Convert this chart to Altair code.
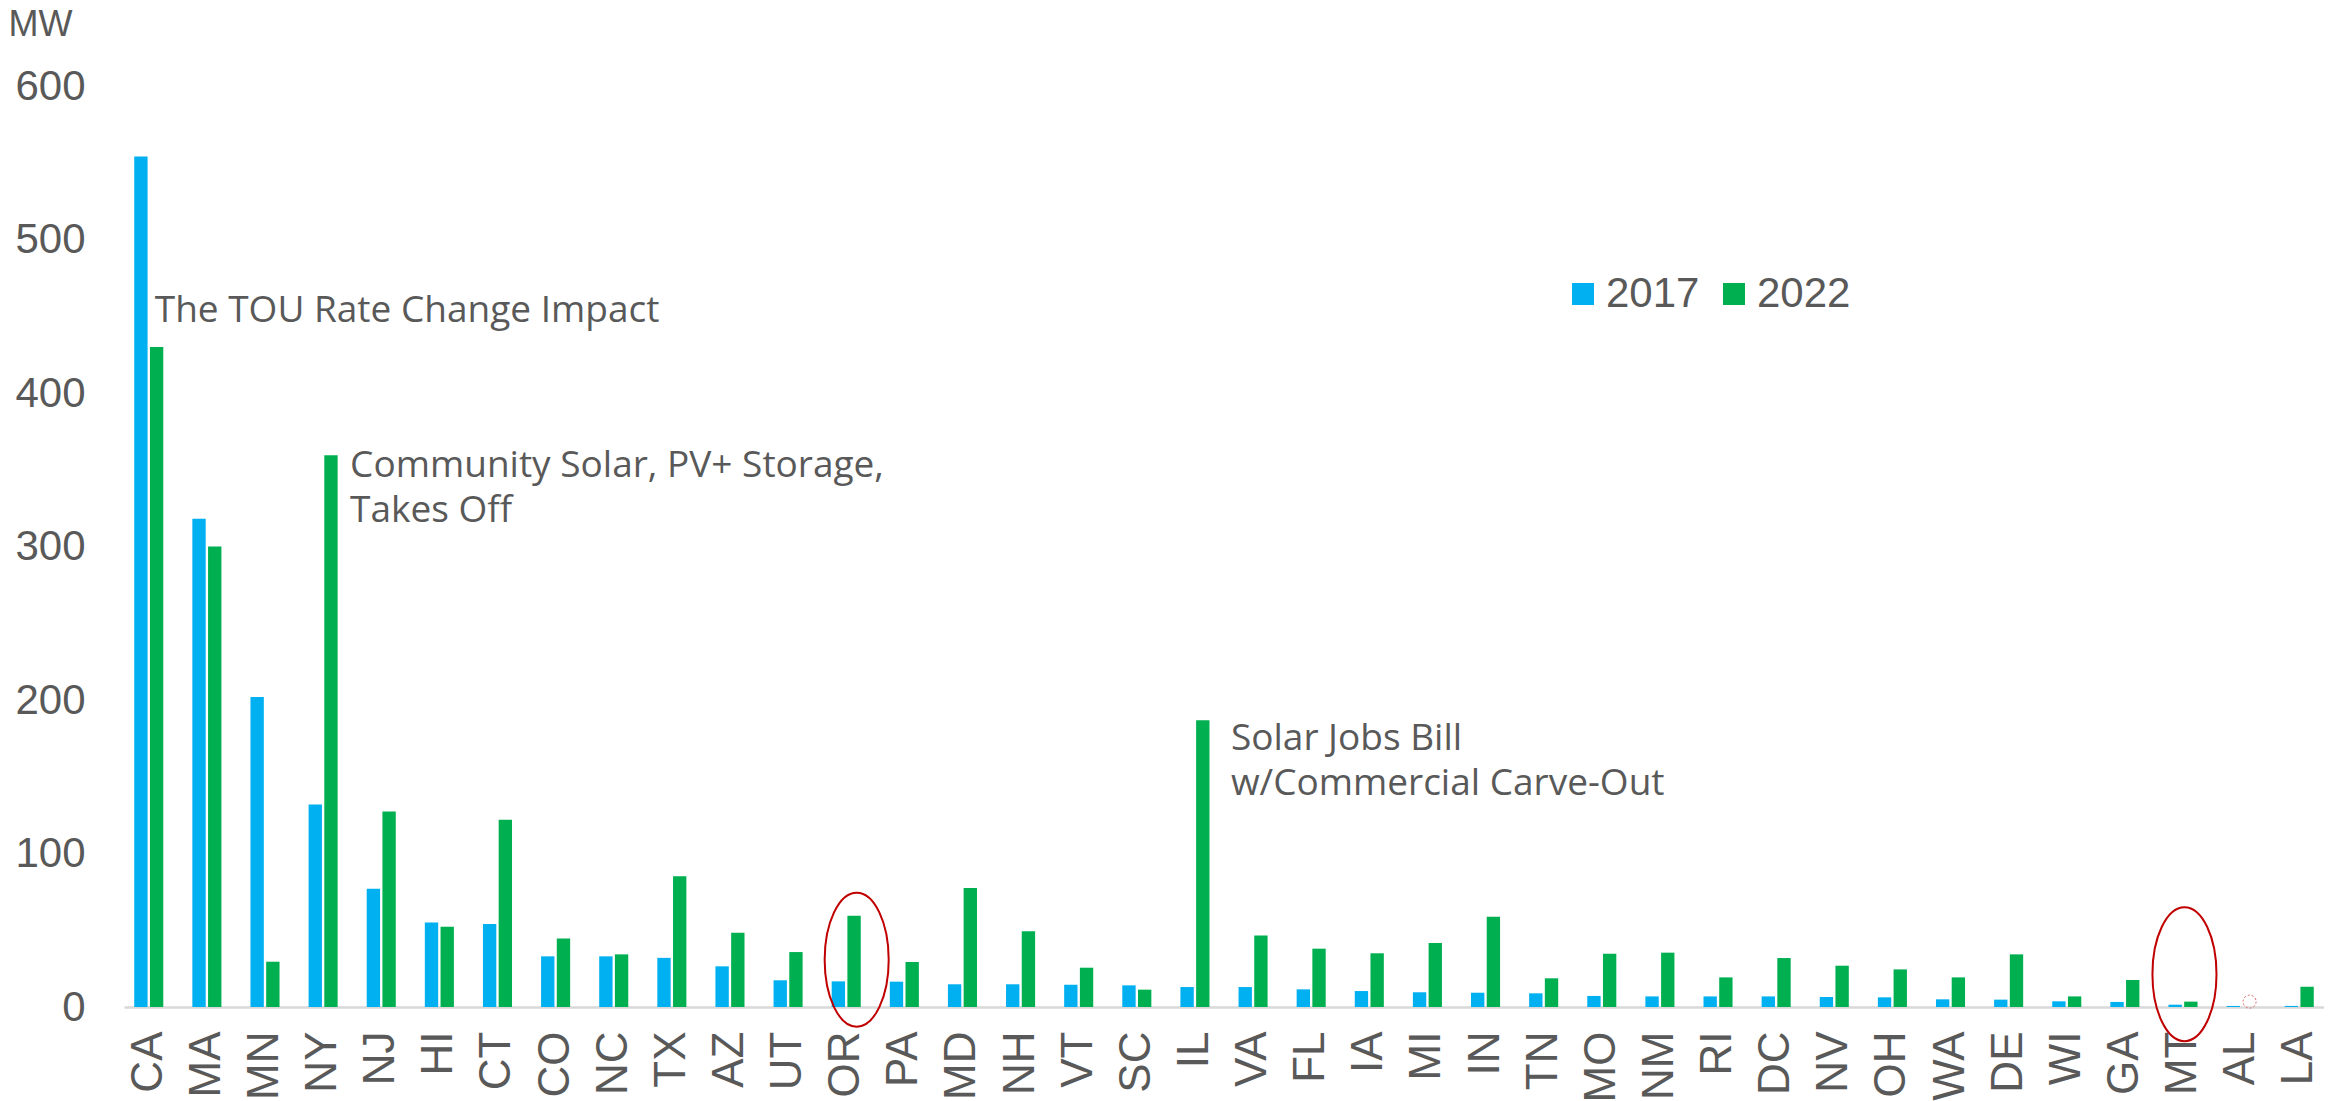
import altair as alt
import pandas as pd

states = ["CA", "MA", "MN", "NY", "NJ", "HI", "CT", "CO", "NC", "TX", "AZ", "UT", "OR",
          "PA", "MD", "NH", "VT", "SC", "IL", "VA", "FL", "IA", "MI", "IN", "TN", "MO",
          "NM", "RI", "DC", "NV", "OH", "WA", "DE", "WI", "GA", "MT", "AL", "LA"]
mw_2017 = [554, 318, 202, 132, 77, 55, 54, 33, 33, 32, 26.5, 17.4, 16.7,
           16.5, 14.8, 14.8, 14.5, 14.1, 13, 13, 11.5, 10.4, 9.6, 9.3, 8.9, 7.2,
           6.9, 6.9, 6.9, 6.5, 6.3, 5, 4.8, 3.7, 3.3, 1.5, 0.7, 0.7]
mw_2022 = [430, 300, 29.5, 359.5, 127.3, 52.3, 122, 44.7, 34.3, 85.1, 48.4, 35.8, 59.5,
           29.3, 77.5, 49.3, 25.6, 11.3, 186.8, 46.5, 38, 35, 41.7, 58.8, 18.7, 34.7,
           35.4, 19.3, 31.9, 26.9, 24.5, 19.3, 34.3, 6.9, 17.6, 3.5, 0, 13.2]
years = ["2017", "2022"]
colors = ["#00B0F0", "#00B050"]
y_ticks = [0, 100, 200, 300, 400, 500, 600]

# annotations
ann_states = ["CA", "NY", "IL"]
ann_values = [446.5, 345.6, 167.6]
ann_texts = [["The TOU Rate Change Impact"],
             ["Community Solar, PV+ Storage,", "Takes Off"],
             ["Solar Jobs Bill", "w/Commercial Carve-Out"]]
ann_dx = [6, 27, 36]

# highlight ellipses
ell_states = ["OR", "MT"]
ell_values = [30.8, 21.4]
ell_shift = [25, 16]   # offset within band (band width ~29)

rows = []
for s, a, b in zip(states, mw_2017, mw_2022):
    rows.append({"state": s, "year": "2017", "value": a})
    rows.append({"state": s, "year": "2022", "value": b})
df = pd.DataFrame(rows)

FONT = "Liberation Sans"
GREY = "#595959"

x_enc = alt.X("state:N", sort=states,
              scale=alt.Scale(paddingInner=0.5, paddingOuter=0.176),
              axis=alt.Axis(title=None, labelAngle=270, labelFontSize=44, labelFont=FONT,
                            labelColor=GREY, ticks=False, domainColor="#D9D9D9",
                            domainWidth=2.5, labelPadding=24, grid=False))
y_scale = alt.Scale(domain=[0, 600], nice=False)

bars = alt.Chart(df).mark_bar().encode(
    x=x_enc,
    xOffset=alt.XOffset("year:N", sort=years, scale=alt.Scale(paddingInner=0.15, paddingOuter=0)),
    y=alt.Y("value:Q", scale=y_scale,
            axis=alt.Axis(title="MW", titleAngle=0, titleX=-116, titleY=-51, titleAlign="left",
                          titleBaseline="alphabetic", titleFontSize=36, titleFont=FONT,
                          titleFontWeight="normal", titleColor=GREY,
                          values=y_ticks, labelFontSize=42, labelFont=FONT, labelColor=GREY,
                          labelPadding=39, ticks=False, domain=False, grid=False)),
    color=alt.Color("year:N", scale=alt.Scale(domain=years, range=colors),
                    legend=alt.Legend(title=None, orient="none", legendX=1438, legendY=187,
                                      direction="horizontal", symbolType="square",
                                      symbolSize=484, symbolStrokeWidth=0,
                                      labelFontSize=42, labelFont=FONT, labelColor=GREY,
                                      labelOffset=2, columnPadding=13)),
)

layers = [bars]
for s, v, t, dx in zip(ann_states, ann_values, ann_texts, ann_dx):
    d = pd.DataFrame({"state": [s], "value": [v], "label": [t]})
    layers.append(
        alt.Chart(d).mark_text(align="left", baseline="alphabetic", dx=dx, font="Open Sans",
                               fontSize=37, color=GREY, lineHeight=45).encode(
            x=alt.X("state:N", sort=states), y=alt.Y("value:Q", scale=y_scale), text="label")
    )

k = 0.5523
rx = 0.478
ellipse_path = (f"M 0 -1 C {k*rx:.4f} -1 {rx} -{k} {rx} 0 "
                f"C {rx} {k} {k*rx:.4f} 1 0 1 "
                f"C -{k*rx:.4f} 1 -{rx} {k} -{rx} 0 "
                f"C -{rx} -{k} -{k*rx:.4f} -1 0 -1 Z")
for s, v, sh in zip(ell_states, ell_values, ell_shift):
    d = pd.DataFrame({"state": [s], "value": [v]})
    layers.append(
        alt.Chart(d).mark_point(shape=ellipse_path, size=17956, filled=False, color="#C00000",
                                strokeWidth=2, opacity=1).encode(
            x=alt.X("state:N", sort=states, bandPosition=0),
            xOffset=alt.value(sh),
            y=alt.Y("value:Q", scale=y_scale))
    )

# tiny dotted marker near AL
d_al = pd.DataFrame({"state": ["AL"], "value": [3.5]})
layers.append(
    alt.Chart(d_al).mark_point(shape="circle", size=169, filled=False, color="#E06060",
                               strokeWidth=1, strokeDash=[2, 2], opacity=1).encode(
        x=alt.X("state:N", sort=states, bandPosition=0),
        xOffset=alt.value(23),
        y=alt.Y("value:Q", scale=y_scale))
)

chart = alt.layer(*layers).properties(
    width=2200, height=921,
    autosize=alt.AutoSizeParams(type="none"),
    padding={"left": 116, "top": 78, "right": 0, "bottom": 94},
).configure_view(strokeWidth=0)

chart.save("out.html", embed_options={"renderer": "svg", "actions": False})
